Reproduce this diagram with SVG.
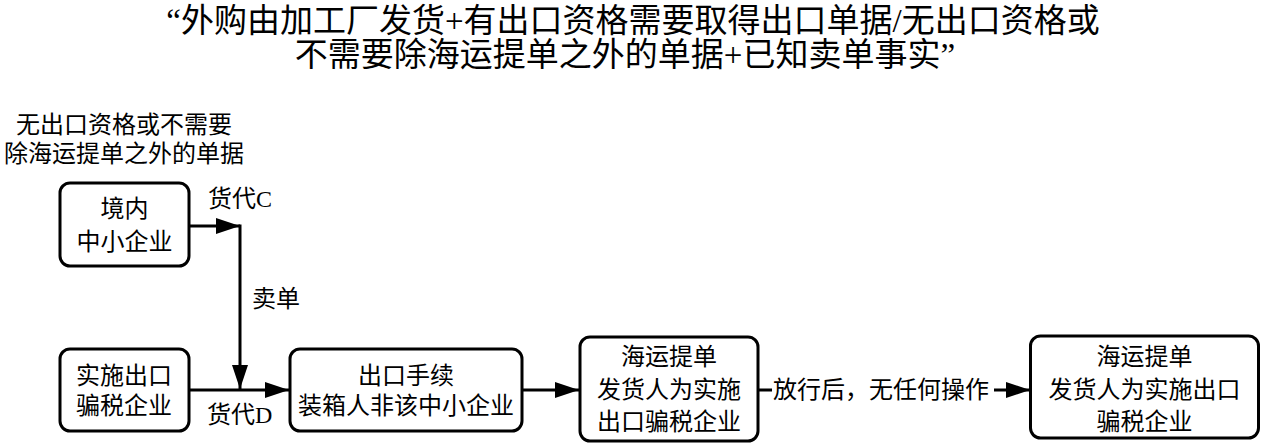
<svg xmlns="http://www.w3.org/2000/svg" width="1262" height="445" viewBox="0 0 1262 445">
<style>
text{font-family:"Liberation Serif","Noto Sans CJK SC",serif;fill:#000;}
.t{font-size:33px;text-anchor:middle;}
.n{font-size:24px;text-anchor:middle;}
.l{font-size:24px;}
.box{fill:#fff;stroke:#000;stroke-width:3;}
.c{fill:none;stroke:#000;stroke-width:3;}
</style>
<defs>
<marker id="ah" markerUnits="userSpaceOnUse" markerWidth="26" markerHeight="18" refX="24" refY="8" orient="auto">
<path d="M0,0 L24,8 L0,16 Z" fill="#000"/>
</marker>
</defs>
<rect width="1262" height="445" fill="#fff"/>
<g id="title">
<text class="t" x="633" y="32">“外购由加工厂发货+有出口资格需要取得出口单据/无出口资格或</text>
<text class="t" x="625" y="66">不需要除海运提单之外的单据+已知卖单事实”</text>
</g>
<g id="note">
<text class="n" x="124" y="133">无出口资格或不需要</text>
<text class="n" x="124" y="162">除海运提单之外的单据</text>
</g>
<g id="connectors">
<path class="c" d="M189,226 H240" marker-end="url(#ah)"/>
<path class="c" d="M240,224.5 V389" marker-end="url(#ah)"/>
<path class="c" d="M189,390 H289" marker-end="url(#ah)"/>
<path class="c" d="M522,390 H579" marker-end="url(#ah)"/>
<path class="c" d="M758,390 H772 M994,390 H1030" marker-end="url(#ah)"/>
<text class="l" x="208" y="207">货代C</text>
<text class="l" x="252" y="307">卖单</text>
<text class="l" x="207" y="423">货代D</text>
<text class="l" x="773" y="398">放行后，无任何操作</text>
</g>
<g id="n1">
<rect class="box" x="60" y="183" width="129" height="83" rx="10"/>
<text class="n" x="124.5" y="217">境内</text>
<text class="n" x="124.5" y="250">中小企业</text>
</g>
<g id="n2">
<rect class="box" x="60" y="349" width="129" height="82" rx="10"/>
<text class="n" x="124" y="384">实施出口</text>
<text class="n" x="124" y="414">骗税企业</text>
</g>
<g id="n3">
<rect class="box" x="290" y="349" width="232" height="82" rx="10"/>
<text class="n" x="406" y="384">出口手续</text>
<text class="n" x="406" y="414">装箱人非该中小企业</text>
</g>
<g id="n4">
<rect class="box" x="580" y="337" width="178" height="104" rx="10"/>
<text class="n" x="669" y="365">海运提单</text>
<text class="n" x="669" y="398">发货人为实施</text>
<text class="n" x="669" y="430">出口骗税企业</text>
</g>
<g id="n5">
<rect class="box" x="1030.5" y="336" width="228" height="102" rx="10"/>
<text class="n" x="1144.5" y="365">海运提单</text>
<text class="n" x="1144.5" y="398">发货人为实施出口</text>
<text class="n" x="1144.5" y="430">骗税企业</text>
</g>
</svg>
